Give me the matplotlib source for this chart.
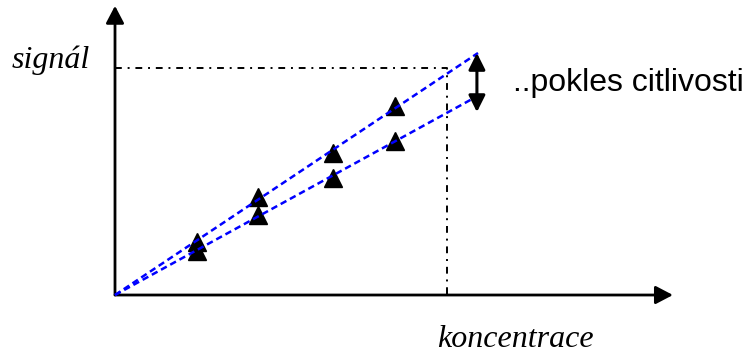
"""Calibration sketch: signal vs. concentration, drop in sensitivity."""

import matplotlib

matplotlib.use("Agg")
import matplotlib.pyplot as plt

# schematic units (origin at 0,0)
conc = [2.25, 3.95, 6.0, 7.7]
signal_hi = [2.2, 4.05, 5.85, 7.8]     # original calibration points
signal_lo = [1.8, 3.3, 4.85, 6.35]     # after loss of sensitivity

line_hi_end = (10.0, 10.0)
line_lo_end = (9.9, 8.15)
read_conc, read_signal = 9.15, 9.38    # dash-dot read-off
drop_x, drop_top, drop_bottom = 9.97, 10.0, 7.56

x_axis_end, y_axis_end = 15.37, 11.95

fig = plt.figure(figsize=(7.45, 3.56), dpi=100)
ax = fig.add_axes([0, 0, 1, 1])
ax.set_xlim(-3.168, 17.355)
ax.set_ylim(-2.52, 12.19)
ax.axis("off")

# axes with arrow heads
axis_style = dict(arrowstyle="-|>,head_length=1.05,head_width=0.55",
                  color="black", lw=2.0, shrinkA=0, shrinkB=0)
ax.annotate("", xy=(x_axis_end, 0), xytext=(0, 0), arrowprops=axis_style)
ax.annotate("", xy=(0, y_axis_end), xytext=(0, 0), arrowprops=axis_style)

# read-off line
ax.plot([0, read_conc, read_conc], [read_signal, read_signal, 0],
        color="black", lw=1.4, ls=(0, (3.5, 3.0, 1.0, 3.0)))

# calibration points
ax.plot(conc, signal_hi, ls="none", marker="^", ms=13, color="black", zorder=2)
ax.plot(conc, signal_lo, ls="none", marker="^", ms=13, color="black", zorder=2)

# calibration lines
for end in (line_hi_end, line_lo_end):
    ax.plot([0, end[0]], [0, end[1]], color="#0000ff", lw=1.8,
            ls=(0, (2.6, 1.6)), zorder=3)

# drop in sensitivity
ax.annotate("", xy=(drop_x, drop_top), xytext=(drop_x, drop_bottom),
            arrowprops=dict(arrowstyle="<|-|>,head_length=1.0,head_width=0.5",
                            color="black", lw=2.2, shrinkA=0, shrinkB=0))

ax.text(-2.85, read_signal, "signál", fontsize=23, family="Liberation Serif",
        style="italic", va="baseline", ha="left")
ax.text(8.87, -2.15, "koncentrace", fontsize=23, family="Liberation Serif",
        style="italic", va="baseline", ha="left")
ax.text(10.96, 8.75, "..pokles citlivosti", fontsize=23,
        family="Liberation Sans", va="center", ha="left")

fig.savefig("out.png", dpi=100)
